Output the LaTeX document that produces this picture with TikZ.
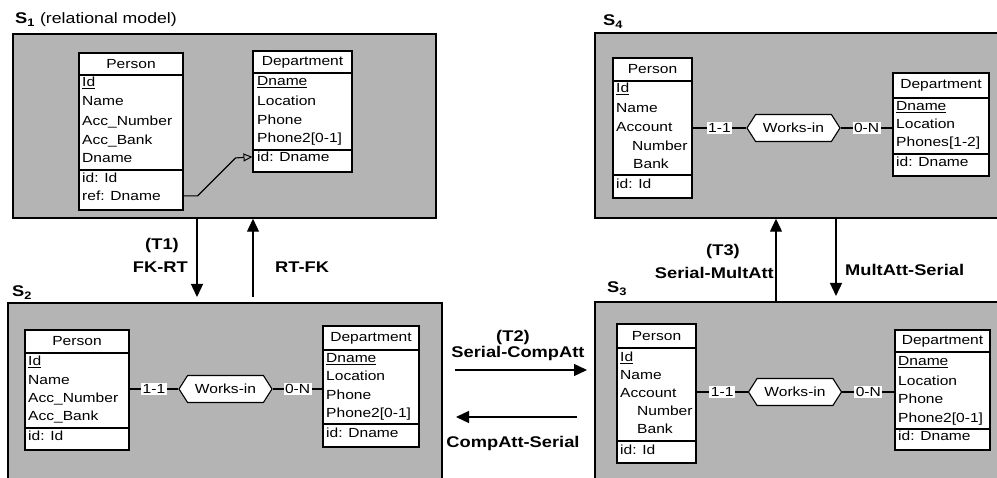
\documentclass[tikz,border=0pt]{standalone}
\usepackage{fontspec}
\setmainfont[FakeStretch=1.18]{Liberation Sans}
\usetikzlibrary{arrows.meta,shapes.symbols,fit}
\definecolor{schemagray}{RGB}{180,180,180}
\newcommand\attfont{\fontsize{13.2}{15}\selectfont}
\newcommand\lblfont{\fontsize{15.5}{18}\selectfont\bfseries}
\newcommand\mktab[8]{%
  \node[tabbox, fit={(#2,#3) (#4,#7)}] (#1) {};
  \draw[tabline] (#2,#5) -- (#4,#5) (#2,#6) -- (#4,#6);
  \node[hdr] (#1-h) at ({(#2+#4)/2},{(#3+#5)/2}) {#8};
}
\newcommand\attrow[4]{\node[attr] (#1) at (#2,#3) {#4};}
\tikzset{
  schema/.style={draw=black, line width=1.5pt, fill=schemagray, inner sep=0pt},
  tabbox/.style={draw=black, line width=1.1pt, fill=white, inner sep=0pt},
  tabline/.style={line width=1.1pt},
  hdr/.style={font=\attfont, inner sep=0pt},
  attr/.style={font=\attfont, anchor=mid west, inner sep=0pt},
  rel/.style={line width=1.1pt},
  reltype/.style={signal, signal to=west and east, signal pointer angle=115,
    draw=black, line width=1.1pt, fill=white, font=\attfont,
    minimum width=93pt, minimum height=27pt, inner sep=1pt},
  card/.style={fill=white, font=\attfont, inner sep=1.5pt},
  bigarr/.style={line width=1.3pt, -{Triangle[length=13pt,width=12pt]}},
  refarr/.style={line width=1.1pt, -{Triangle[open,length=9pt,width=8pt,line width=1pt]}},
  lbl/.style={font=\lblfont, inner sep=0pt},
  slabel/.style={anchor=base west, inner sep=0pt},
}
\begin{document}
\begin{tikzpicture}[x=1pt,y=-1pt]
\useasboundingbox (0,0) rectangle (997,478);
\fill[white] (0,0) rectangle (997,478);

% schema boxes
\node[schema, fit={(13,34) (436,218)}] (s1) {};
\node[schema, fit={(595,33) (1002,218)}] (s4) {};
\node[schema, fit={(8,303) (442,482)}] (s2) {};
\node[schema, fit={(595,302) (1002,482)}] (s3) {};

% schema labels
\node[slabel, font={\fontsize{15.5}{18}\selectfont}] (l1) at (15,24) {\textbf{S\textsubscript{1}} {\fontsize{15}{18}\selectfont(relational model)}};
\node[slabel, font={\fontsize{15.5}{18}\selectfont}] (l4) at (603,26) {\textbf{S\textsubscript{4}}};
\node[slabel, font={\fontsize{15.5}{18}\selectfont}] (l2) at (12,297) {\textbf{S\textsubscript{2}}};
\node[slabel, font={\fontsize{15.5}{18}\selectfont}] (l3) at (607,293) {\textbf{S\textsubscript{3}}};

% ---------- S1 ----------
\mktab{p1}{79}{53}{183}{75}{170}{210}{Person}
\attrow{p1-a1}{82}{84}{\underline{Id}}
\attrow{p1-a2}{82}{103}{Name}
\attrow{p1-a3}{82}{123}{Acc\_Number}
\attrow{p1-a4}{82}{142}{Acc\_Bank}
\attrow{p1-a5}{82}{160}{Dname}
\attrow{p1-id}{82}{180}{id: Id}
\attrow{p1-ref}{82}{198}{ref: Dname}

\mktab{d1}{253}{51}{352}{73}{150}{172}{Department}
\attrow{d1-a1}{257}{83}{\underline{Dname}}
\attrow{d1-a2}{257}{103}{Location}
\attrow{d1-a3}{257}{122}{Phone}
\attrow{d1-a4}{257}{140}{Phone2[0-1]}
\attrow{d1-id}{257}{159}{id: Dname}

\draw[refarr] (p1.east |- p1-ref) -- ++(14,0) -- ++(38,-38) -- (d1.west |- d1-id);

% ---------- S4 ----------
\mktab{p4}{613}{58}{692}{81}{175}{198}{Person}
\attrow{p4-a1}{616}{90}{\underline{Id}}
\attrow{p4-a2}{616}{110}{Name}
\attrow{p4-a3}{616}{129}{Account}
\attrow{p4-a4}{632}{148}{Number}
\attrow{p4-a5}{633}{166}{Bank}
\attrow{p4-id}{616}{186}{id: Id}

\mktab{d4}{893}{73}{989}{98}{154}{176}{Department}
\attrow{d4-a1}{896}{108}{\underline{Dname}}
\attrow{d4-a2}{896}{126}{Location}
\attrow{d4-a3}{896}{144}{Phones[1-2]}
\attrow{d4-id}{896}{164}{id: Dname}

\node[reltype] (h4) at (793.5,128) {Works-in};
\draw[rel] (p4.east |- h4) -- (h4.west) node[card, midway] (c4a) {1-1};
\draw[rel] (h4.east) -- (d4.west |- h4) node[card, midway] (c4b) {0-N};

% ---------- S2 ----------
\mktab{p2}{25}{330}{129}{353}{428}{450}{Person}
\attrow{p2-a1}{28}{363}{\underline{Id}}
\attrow{p2-a2}{28}{382}{Name}
\attrow{p2-a3}{28}{400}{Acc\_Number}
\attrow{p2-a4}{28}{418}{Acc\_Bank}
\attrow{p2-id}{28}{438}{id: Id}

\mktab{d2}{323}{326}{419}{350}{424}{447}{Department}
\attrow{d2-a1}{326}{360}{\underline{Dname}}
\attrow{d2-a2}{326}{378}{Location}
\attrow{d2-a3}{326}{397}{Phone}
\attrow{d2-a4}{326}{415}{Phone2[0-1]}
\attrow{d2-id}{326}{435}{id: Dname}

\node[reltype] (h2) at (225.5,389) {Works-in};
\draw[rel] (p2.east |- h2) -- (h2.west) node[card, midway] (c2a) {1-1};
\draw[rel] (h2.east) -- (d2.west |- h2) node[card, midway] (c2b) {0-N};

% ---------- S3 ----------
\mktab{p3}{617}{324}{696}{348}{441}{463}{Person}
\attrow{p3-a1}{620}{359}{\underline{Id}}
\attrow{p3-a2}{620}{377}{Name}
\attrow{p3-a3}{620}{395}{Account}
\attrow{p3-a4}{637}{413}{Number}
\attrow{p3-a5}{637}{431}{Bank}
\attrow{p3-id}{620}{452}{id: Id}

\mktab{d3}{895}{330}{990}{352}{429}{450}{Department}
\attrow{d3-a1}{898}{363}{\underline{Dname}}
\attrow{d3-a2}{898}{383}{Location}
\attrow{d3-a3}{898}{401}{Phone}
\attrow{d3-a4}{898}{420}{Phone2[0-1]}
\attrow{d3-id}{898}{438}{id: Dname}

\node[reltype] (h3) at (795,392) {Works-in};
\draw[rel] (p3.east |- h3) -- (h3.west) node[card, midway] (c3a) {1-1};
\draw[rel] (h3.east) -- (d3.west |- h3) node[card, midway] (c3b) {0-N};

% ---------- transformations ----------
\coordinate (t1d) at (197,297);
\coordinate (t1u) at (253,297);
\draw[bigarr] (s1.south -| t1d) -- (t1d);
\draw[bigarr] (t1u) -- (s1.south -| t1u);
\node[lbl] (t1) at (162,245) {(T1)};
\node[lbl, anchor=east] (fkrt) at (188,267) {FK-RT};
\node[lbl, anchor=west] (rtfk) at (275,267) {RT-FK};

\coordinate (t3u) at (776,301);
\coordinate (t3d) at (836,296);
\draw[bigarr] (t3u) -- (s4.south -| t3u);
\draw[bigarr] (s4.south -| t3d) -- (t3d);
\node[lbl] (t3) at (723,251) {(T3)};
\node[lbl, anchor=east] (smult) at (774,273) {Serial-MultAtt};
\node[lbl, anchor=west] (mults) at (845,270) {MultAtt-Serial};

\coordinate (t2a) at (455,370);
\coordinate (t2b) at (587,370);
\coordinate (t2c) at (577,417);
\coordinate (t2d) at (456,417);
\draw[bigarr] (t2a) -- (t2b);
\draw[bigarr] (t2c) -- (t2d);
\node[lbl] (t2) at (513,337) {(T2)};
\node[lbl] (scomp) at (518,353) {Serial-CompAtt};
\node[lbl] (comps) at (513,443) {CompAtt-Serial};
\end{tikzpicture}
\end{document}
